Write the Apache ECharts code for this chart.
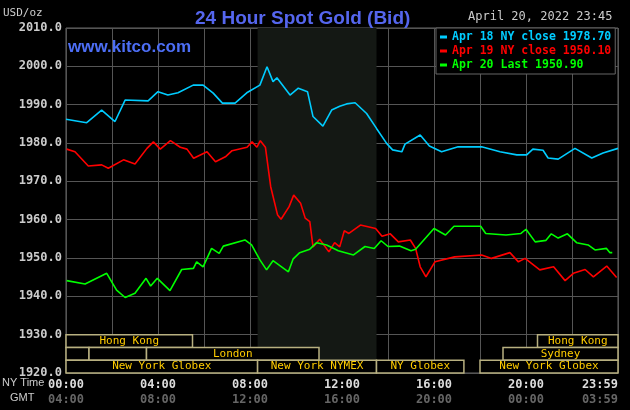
<!DOCTYPE html>
<html>
<head>
<meta charset="utf-8">
<script src="https://cdn.jsdelivr.net/npm/echarts@6/dist/echarts.min.js"></script>
<style>
  html, body { margin: 0; padding: 0; background: #000; }
  #chart { width: 630px; height: 410px; }
</style>
</head>
<body>
<div id="chart"></div>
<script>
// hours (NY time) and prices
var apr18Hours = [0, 0.9, 1.55, 2.13, 2.57, 3.57, 4, 4.43, 4.87, 5.53, 5.96, 6.4, 6.8, 7.35, 7.86, 8.43, 8.74, 9, 9.17, 9.74, 10.1, 10.5, 10.74, 11.17, 11.55, 11.9, 12.2, 12.57, 13.07, 13.5, 13.94, 14.2, 14.6, 14.74, 15.4, 15.8, 16.33, 17.05, 18.07, 18.87, 19.6, 20.03, 20.3, 20.74, 20.96, 21.4, 22.13, 22.86, 23.35, 24];
var apr18Values = [1986.2, 1985.3, 1988.6, 1985.6, 1991.2, 1991.0, 1993.4, 1992.5, 1993.1, 1995.1, 1995.1, 1993.0, 1990.4, 1990.4, 1993.1, 1995.1, 1999.9, 1996.0, 1997.0, 1992.5, 1994.3, 1993.4, 1986.9, 1984.4, 1988.6, 1989.6, 1990.2, 1990.5, 1987.7, 1983.8, 1979.9, 1978.2, 1977.7, 1979.7, 1982.1, 1979.2, 1977.7, 1979.0, 1979.0, 1977.7, 1976.9, 1976.9, 1978.4, 1978.1, 1976.1, 1975.8, 1978.6, 1976.1, 1977.4, 1978.6];

var apr19Hours = [0.03, 0.39, 0.97, 1.55, 1.84, 2.5, 3.0, 3.52, 3.8, 4.1, 4.54, 4.97, 5.26, 5.55, 6.13, 6.5, 6.93, 7.22, 7.87, 8.09, 8.3, 8.45, 8.67, 8.9, 9.2, 9.35, 9.7, 9.9, 10.2, 10.4, 10.6, 10.74, 11.03, 11.43, 11.68, 11.9, 12.1, 12.3, 12.8, 13.46, 13.74, 14.1, 14.45, 14.97, 15.2, 15.4, 15.65, 16.04, 16.9, 18.07, 18.5, 19.3, 19.67, 19.96, 20.6, 21.2, 21.7, 22.06, 22.57, 22.93, 23.51, 23.94];
var apr19Values = [1978.4, 1977.7, 1974.0, 1974.3, 1973.4, 1975.6, 1974.5, 1978.6, 1980.3, 1978.4, 1980.6, 1978.9, 1978.4, 1976.0, 1977.7, 1975.1, 1976.4, 1978.0, 1978.9, 1980.3, 1978.9, 1980.6, 1978.9, 1968.6, 1961.2, 1960.1, 1963.4, 1966.4, 1964.3, 1960.4, 1959.5, 1952.9, 1954.9, 1951.6, 1954.0, 1952.9, 1957.1, 1956.4, 1958.6, 1957.7, 1955.7, 1956.3, 1954.2, 1954.7, 1952.5, 1947.7, 1945.1, 1949.0, 1950.3, 1950.8, 1949.9, 1951.4, 1949.0, 1949.9, 1946.9, 1947.7, 1944.1, 1946.0, 1947.0, 1945.1, 1947.9, 1944.9];

var apr20Hours = [0.03, 0.83, 1.77, 2.2, 2.57, 3.0, 3.48, 3.68, 3.97, 4.52, 5.03, 5.54, 5.68, 5.96, 6.33, 6.66, 6.84, 7.78, 8.07, 8.43, 8.72, 9.0, 9.67, 9.87, 10.16, 10.6, 10.9, 11.33, 11.84, 12.5, 13.0, 13.4, 13.7, 14.0, 14.5, 15.0, 15.2, 16.0, 16.5, 16.87, 18.03, 18.25, 19.13, 19.78, 20.0, 20.4, 20.87, 21.1, 21.4, 21.8, 22.2, 22.7, 23.0, 23.5, 23.65, 23.75];
var apr20Values = [1944.1, 1943.2, 1946.0, 1941.6, 1939.7, 1940.8, 1944.7, 1942.7, 1944.7, 1941.5, 1947.0, 1947.3, 1949.0, 1947.7, 1952.5, 1951.2, 1953.1, 1954.7, 1953.4, 1949.5, 1946.9, 1949.3, 1946.4, 1949.7, 1951.4, 1952.3, 1954.0, 1953.4, 1951.9, 1950.8, 1953.0, 1952.5, 1954.5, 1953.0, 1953.1, 1951.9, 1952.3, 1957.7, 1956.0, 1958.3, 1958.3, 1956.4, 1956.0, 1956.4, 1957.5, 1954.2, 1954.6, 1956.3, 1955.2, 1956.3, 1954.0, 1953.4, 1952.1, 1952.5, 1951.4, 1951.4];

var seriesNames = ['Apr 18 NY close 1978.70', 'Apr 19 NY close 1950.10', 'Apr 20 Last 1950.90'];
var seriesColors = ['#00ccff', '#ff0000', '#00ff00'];

// trading sessions: [start hour, end hour, row, label]
var sessions = [
  [0, 5.5, 0, 'Hong Kong'], [20.5, 24, 0, 'Hong Kong'],
  [0, 1, 1, ''], [1, 3.5, 1, ''], [3.5, 11, 1, 'London'], [19, 24, 1, 'Sydney'],
  [0, 8.33, 2, 'New York Globex'], [8.33, 13.5, 2, 'New York NYMEX'], [13.5, 17.3, 2, 'NY Globex'], [18, 24, 2, 'New York Globex']
];
var shadeStart = 8.33, shadeEnd = 13.5;

var nyTicks = {0: '00:00', 4: '04:00', 8: '08:00', 12: '12:00', 16: '16:00', 20: '20:00', 24: '23:59'};
var gmtTicks = {0: '04:00', 4: '08:00', 8: '12:00', 12: '16:00', 16: '20:00', 20: '00:00', 24: '03:59'};

function pairs(h, v) { return h.map(function (x, i) { return [x, v[i]]; }); }

var mono = 'DejaVu Sans Mono';
var chart = echarts.init(document.getElementById('chart'));

var lineSeries = [pairs(apr18Hours, apr18Values), pairs(apr19Hours, apr19Values), pairs(apr20Hours, apr20Values)].map(function (d, i) {
  return {
    name: seriesNames[i], type: 'line', data: d, symbol: 'none', z: 5,
    lineStyle: { color: seriesColors[i], width: 1.6 }, itemStyle: { color: seriesColors[i] }
  };
});
lineSeries[0].markArea = {
  silent: true, itemStyle: { color: '#141814' },
  data: [[{ xAxis: shadeStart }, { xAxis: shadeEnd }]]
};

chart.setOption({
  backgroundColor: '#000',
  animation: false,
  title: {
    text: '24 Hour Spot Gold (Bid)', left: 190, top: 4,
    textStyle: { color: '#5566ee', fontSize: 19, fontWeight: 'bold', fontFamily: 'Liberation Sans' }
  },
  legend: {
    orient: 'vertical', left: 436, top: 28, itemGap: 2, itemWidth: 7, itemHeight: 3,
    icon: 'rect', padding: [3, 4, 3, 4], backgroundColor: '#000', borderColor: '#666', borderWidth: 1,
    data: seriesNames.map(function (n, i) {
      return { name: n, textStyle: { color: seriesColors[i], fontFamily: mono, fontWeight: 'bold', fontSize: 11.5 } };
    }),
    z: 10
  },
  graphic: [
    { type: 'text', left: 3, top: 8, style: { text: 'USD/oz', fill: '#ccc', font: '11px ' + mono } },
    { type: 'text', left: 468, top: 11, style: { text: 'April 20, 2022 23:45', fill: '#ccc', font: '12px ' + mono } },
    { type: 'text', left: 68, top: 39, z: 10, style: { text: 'www.kitco.com', fill: '#4d6ef5', font: 'bold 17px Liberation Sans' } },
    { type: 'text', left: 2, top: 377, style: { text: 'NY Time', fill: '#ccc', font: '11px Liberation Sans' } },
    { type: 'text', left: 10, top: 392, style: { text: 'GMT', fill: '#ccc', font: '11px Liberation Sans' } }
  ],
  grid: { left: 66, right: 12, top: 28, bottom: 37, show: true, borderColor: '#666', borderWidth: 1, outerBoundsMode: 'none', containLabel: false },
  xAxis: {
    type: 'value', min: 0, max: 24, interval: 2,
    axisLine: { show: false }, axisTick: { show: false },
    splitLine: { lineStyle: { color: '#555', width: 1 } },
    axisLabel: {
      margin: 4, showMaxLabel: true, alignMaxLabel: 'right',
      formatter: function (v) {
        return nyTicks[v] ? '{a|' + nyTicks[v] + '}\n{b|' + gmtTicks[v] + '}' : '';
      },
      rich: {
        a: { color: '#ddd', fontFamily: mono, fontWeight: 'bold', fontSize: 12, lineHeight: 15 },
        b: { color: '#666', fontFamily: mono, fontWeight: 'bold', fontSize: 12, lineHeight: 15 }
      }
    }
  },
  yAxis: {
    type: 'value', min: 1920, max: 2010, interval: 10,
    axisLine: { show: false }, axisTick: { show: false },
    splitLine: { lineStyle: { color: '#555', width: 1 } },
    axisLabel: {
      color: '#ccc', fontFamily: mono, fontWeight: 'bold', fontSize: 12, margin: 4,
      formatter: function (v) { return v.toFixed(1); }
    }
  },
  series: lineSeries.concat([{
    type: 'custom', z: 4, silent: true,
    data: sessions,
    encode: { x: [0, 1], y: 2 },
    renderItem: function (params, api) {
      var row = api.value(2);
      var p1 = api.coord([api.value(0), 1930 - row * 10 / 3]);
      var p2 = api.coord([api.value(1), 1930 - (row + 1) * 10 / 3]);
      var name = sessions[params.dataIndex][3];
      return {
        type: 'group',
        children: [{
          type: 'rect',
          shape: { x: p1[0], y: p1[1], width: p2[0] - p1[0], height: p2[1] - p1[1] },
          style: { fill: '#000', stroke: '#b8b080', lineWidth: 1.5 }
        }, {
          type: 'text',
          style: {
            text: name, x: (p1[0] + p2[0]) / 2, y: (p1[1] + p2[1]) / 2,
            align: 'center', verticalAlign: 'middle', fill: '#ffcc00', font: '11px ' + mono
          }
        }]
      };
    }
  }])
});
</script>
</body>
</html>
